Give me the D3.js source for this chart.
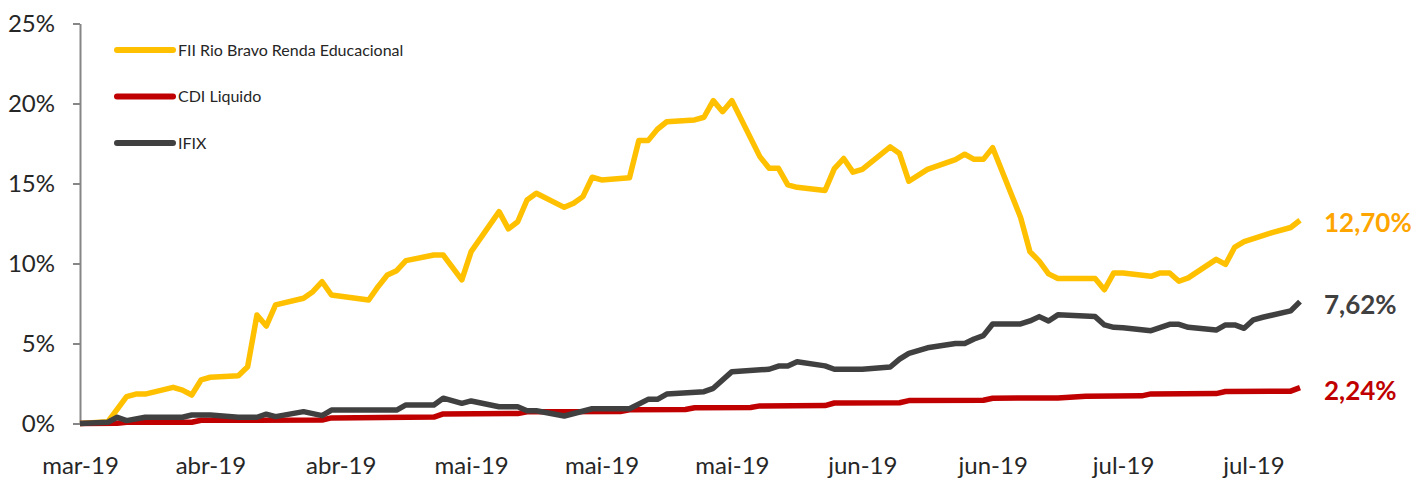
<!DOCTYPE html>
<html>
<head>
<meta charset="utf-8">
<script src="https://cdn.jsdelivr.net/npm/d3@7"></script>
<style>
  body { margin: 0; background: #fff; }
  text { font-family: Lato, "Open Sans", sans-serif; }
</style>
</head>
<body>
<svg></svg>
<script>
// series data: [date, accumulated %]
const fiiData = [
  ["2019-03-21", 0], ["2019-03-24", 0.11], ["2019-03-26", 1.68], ["2019-03-27", 1.84], ["2019-03-28", 1.84],
  ["2019-03-31", 2.26], ["2019-04-01", 2.09], ["2019-04-02", 1.78], ["2019-04-03", 2.72], ["2019-04-04", 2.89],
  ["2019-04-07", 2.99], ["2019-04-08", 3.55], ["2019-04-09", 6.78], ["2019-04-10", 6.09], ["2019-04-11", 7.41],
  ["2019-04-14", 7.83], ["2019-04-15", 8.24], ["2019-04-16", 8.86], ["2019-04-17", 8.03], ["2019-04-21", 7.72],
  ["2019-04-22", 8.55], ["2019-04-23", 9.28], ["2019-04-24", 9.55], ["2019-04-25", 10.18], ["2019-04-28", 10.53],
  ["2019-04-29", 10.53], ["2019-05-01", 8.98], ["2019-05-02", 10.74], ["2019-05-05", 13.24], ["2019-05-06", 12.16],
  ["2019-05-07", 12.61], ["2019-05-08", 13.97], ["2019-05-09", 14.39], ["2019-05-12", 13.51], ["2019-05-13", 13.76],
  ["2019-05-14", 14.18], ["2019-05-15", 15.39], ["2019-05-16", 15.22], ["2019-05-19", 15.36], ["2019-05-20", 17.68],
  ["2019-05-21", 17.68], ["2019-05-22", 18.39], ["2019-05-23", 18.86], ["2019-05-26", 18.97], ["2019-05-27", 19.14],
  ["2019-05-28", 20.18], ["2019-05-29", 19.49], ["2019-05-30", 20.18], ["2019-06-02", 16.68], ["2019-06-03", 15.95],
  ["2019-06-04", 15.95], ["2019-06-05", 14.91], ["2019-06-06", 14.76], ["2019-06-09", 14.56], ["2019-06-10", 15.93],
  ["2019-06-11", 16.56], ["2019-06-12", 15.71], ["2019-06-13", 15.88], ["2019-06-16", 17.29], ["2019-06-17", 16.87],
  ["2019-06-18", 15.14], ["2019-06-20", 15.88], ["2019-06-23", 16.49], ["2019-06-24", 16.83], ["2019-06-25", 16.51],
  ["2019-06-26", 16.51], ["2019-06-27", 17.24], ["2019-06-30", 12.88], ["2019-07-01", 10.74], ["2019-07-02", 10.15],
  ["2019-07-03", 9.35], ["2019-07-04", 9.06], ["2019-07-08", 9.06], ["2019-07-09", 8.36], ["2019-07-10", 9.41],
  ["2019-07-11", 9.41], ["2019-07-14", 9.2], ["2019-07-15", 9.41], ["2019-07-16", 9.41], ["2019-07-17", 8.89],
  ["2019-07-18", 9.1], ["2019-07-21", 10.26], ["2019-07-22", 9.94], ["2019-07-23", 11.03], ["2019-07-24", 11.37],
  ["2019-07-27", 11.93], ["2019-07-29", 12.25], ["2019-07-30", 12.70]
]

const cdiData = [
  ["2019-03-21", 0], ["2019-03-25", 0.02], ["2019-03-26", 0.08], ["2019-04-02", 0.08], ["2019-04-03", 0.2],
  ["2019-04-16", 0.22], ["2019-04-17", 0.35], ["2019-04-28", 0.4], ["2019-04-29", 0.6], ["2019-05-07", 0.62],
  ["2019-05-08", 0.73], ["2019-05-18", 0.75], ["2019-05-19", 0.86], ["2019-05-25", 0.88], ["2019-05-26", 0.98],
  ["2019-06-01", 1.0], ["2019-06-02", 1.1], ["2019-06-09", 1.12], ["2019-06-10", 1.28], ["2019-06-17", 1.3],
  ["2019-06-18", 1.43], ["2019-06-26", 1.45], ["2019-06-27", 1.58], ["2019-07-04", 1.6], ["2019-07-07", 1.71],
  ["2019-07-13", 1.73], ["2019-07-14", 1.85], ["2019-07-21", 1.87], ["2019-07-22", 2.0], ["2019-07-29", 2.02],
  ["2019-07-30", 2.24]
]

const ifixData = [
  ["2019-03-21", 0], ["2019-03-24", 0.08], ["2019-03-25", 0.39], ["2019-03-26", 0.18], ["2019-03-28", 0.39],
  ["2019-04-01", 0.39], ["2019-04-02", 0.53], ["2019-04-04", 0.53], ["2019-04-07", 0.39], ["2019-04-09", 0.39],
  ["2019-04-10", 0.58], ["2019-04-11", 0.43], ["2019-04-14", 0.74], ["2019-04-16", 0.49], ["2019-04-17", 0.84],
  ["2019-04-24", 0.84], ["2019-04-25", 1.16], ["2019-04-28", 1.16], ["2019-04-29", 1.58], ["2019-05-01", 1.26],
  ["2019-05-02", 1.41], ["2019-05-05", 1.05], ["2019-05-07", 1.05], ["2019-05-08", 0.8], ["2019-05-09", 0.8],
  ["2019-05-12", 0.47], ["2019-05-15", 0.92], ["2019-05-19", 0.92], ["2019-05-21", 1.51], ["2019-05-22", 1.51],
  ["2019-05-23", 1.84], ["2019-05-27", 1.99], ["2019-05-28", 2.2], ["2019-05-30", 3.24], ["2019-06-03", 3.39],
  ["2019-06-04", 3.59], ["2019-06-05", 3.59], ["2019-06-06", 3.86], ["2019-06-09", 3.6], ["2019-06-10", 3.39],
  ["2019-06-13", 3.39], ["2019-06-16", 3.53], ["2019-06-17", 4.02], ["2019-06-18", 4.38], ["2019-06-20", 4.73],
  ["2019-06-23", 5.0], ["2019-06-24", 5.0], ["2019-06-25", 5.28], ["2019-06-26", 5.49], ["2019-06-27", 6.22],
  ["2019-06-30", 6.22], ["2019-07-01", 6.41], ["2019-07-02", 6.68], ["2019-07-03", 6.41], ["2019-07-04", 6.79],
  ["2019-07-08", 6.68], ["2019-07-09", 6.16], ["2019-07-10", 6.01], ["2019-07-11", 5.99], ["2019-07-14", 5.8],
  ["2019-07-16", 6.2], ["2019-07-17", 6.2], ["2019-07-18", 6.01], ["2019-07-21", 5.84], ["2019-07-22", 6.16],
  ["2019-07-23", 6.16], ["2019-07-24", 5.95], ["2019-07-25", 6.48], ["2019-07-26", 6.64], ["2019-07-29", 7.04],
  ["2019-07-30", 7.62]
]

const seriesNames = ["FII Rio Bravo Renda Educacional", "CDI Liquido", "IFIX"]
const endLabels = ["12,70%", "2,24%", "7,62%"]
const yTicks = [0, 5, 10, 15, 20, 25]
const xTickDates = ["2019-03-21", "2019-04-04", "2019-04-18", "2019-05-02", "2019-05-16",
                    "2019-05-30", "2019-06-13", "2019-06-27", "2019-07-11", "2019-07-25"]
const xTickLabels = ["mar-19", "abr-19", "abr-19", "mai-19", "mai-19",
                     "mai-19", "jun-19", "jun-19", "jul-19", "jul-19"]

const width = 1411
const height = 482
const parse = d3.timeParse("%Y-%m-%d")

const svg = d3.select('svg')
  .attr('width', width)
  .attr('height', height)

const x = d3.scaleTime()
  .domain([parse("2019-03-21"), parse("2019-07-30")])
  .range([80, 1300])

const y = d3.scaleLinear()
  .domain([0, 25])
  .range([423.5, 23.5])

// y axis
const yAxis = svg.append('g')
  .attr('transform', 'translate(80,0)')
  .call(d3.axisLeft(y).tickValues(yTicks).tickSize(7).tickSizeOuter(0).tickPadding(18)
    .tickFormat(d => d + "%"))
yAxis.select('.domain').attr('stroke', '#868686').attr('stroke-width', 2)
yAxis.selectAll('.tick line').attr('stroke', '#868686').attr('stroke-width', 2)
yAxis.selectAll('text').attr('font-size', 24).attr('fill', '#262626')
  .attr('font-family', 'Lato, sans-serif')

// x axis (labels only)
const xAxis = svg.append('g')
  .attr('transform', 'translate(0,423.5)')
  .call(d3.axisBottom(x).tickValues(xTickDates.map(parse)).tickSize(0).tickPadding(33)
    .tickFormat((d, i) => xTickLabels[i]))
xAxis.select('.domain').remove()
xAxis.selectAll('text').attr('font-size', 24).attr('fill', '#262626')
  .attr('font-family', 'Lato, sans-serif')

const series = [
  { name: seriesNames[0], data: fiiData, color: '#FFC000', label: endLabels[0], labelColor: '#FFA500' },
  { name: seriesNames[1], data: cdiData, color: '#C00000', label: endLabels[1], labelColor: '#C00000' },
  { name: seriesNames[2], data: ifixData, color: '#404040', label: endLabels[2], labelColor: '#404040' }
]

const line = d3.line()
  .x(d => x(parse(d[0])))
  .y(d => y(d[1]))

// draw order: yellow, red, gray on top
svg.append('g')
  .selectAll('path')
  .data(series)
  .enter().append('path')
    .attr('d', s => line(s.data))
    .attr('fill', 'none')
    .attr('stroke', s => s.color)
    .attr('stroke-width', 5.5)
    .attr('stroke-linejoin', 'round')

svg.append('g')
  .selectAll('text')
  .data(series)
  .enter().append('text')
    .attr('x', 1324)
    .attr('y', s => y(s.data[s.data.length - 1][1]) + 3)
    .attr('dy', '0.35em')
    .attr('font-size', 26)
    .attr('font-weight', 'bold')
    .attr('fill', s => s.labelColor)
    .text(s => s.label)

// legend
const legend = svg.append('g')
  .selectAll('g')
  .data(series)
  .enter().append('g')
    .attr('transform', (s, i) => `translate(117,${50 + i * 46.5})`)

legend.append('line')
  .attr('x1', 0).attr('x2', 56)
  .attr('stroke', s => s.color)
  .attr('stroke-width', 6)
  .attr('stroke-linecap', 'round')

legend.append('text')
  .attr('x', 61)
  .attr('dy', '0.35em')
  .attr('font-size', 16)
  .attr('fill', '#262626')
  .text(s => s.name)
</script>
</body>
</html>
